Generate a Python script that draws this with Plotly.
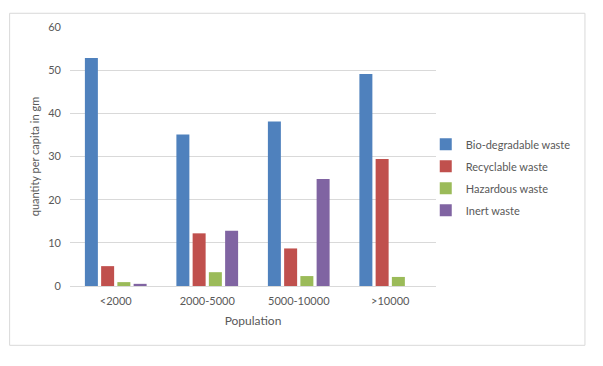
import plotly.graph_objects as go

categories = ["<2000", "2000-5000", "5000-10000", ">10000"]
bio = [52.8, 35.1, 38.1, 49.1]
recyclable = [4.6, 12.2, 8.7, 29.4]
hazardous = [0.9, 3.2, 2.3, 2.1]
inert = [0.5, 12.8, 24.8, None]
series_names = ["Bio-degradable waste", "Recyclable waste", "Hazardous waste", "Inert waste"]
colors = ["#4f81bd", "#c0504d", "#9bbb59", "#8064a2"]
y_ticks = [0, 10, 20, 30, 40, 50, 60]

fig = go.Figure()
for i, (name, vals) in enumerate(zip(series_names, [bio, recyclable, hazardous, inert])):
    fig.add_trace(go.Bar(x=categories, y=vals, name=name, marker_color=colors[i],
                         marker_line_width=0, legendgroup=str(i)))

font_color = "#595959"
fig.update_layout(
    width=595, height=358,
    margin=dict(l=62, r=167, t=16, b=80),
    paper_bgcolor="white", plot_bgcolor="white",
    font=dict(family="Lato", size=11, color=font_color),
    barmode="group", bargap=0.29, bargroupgap=0.2,
    xaxis=dict(showgrid=False, showline=True, linecolor="#d9d9d9", linewidth=1,
               ticks="", ticklabelstandoff=5, tickfont=dict(size=11, color=font_color),
               title=dict(text="Population", font=dict(size=12, color=font_color), standoff=10)),
    yaxis=dict(range=[0, 60], tickvals=y_ticks, showgrid=True, gridcolor="#d9d9d9",
               zeroline=False, showline=False, ticks="", ticklabelstandoff=8,
               tickfont=dict(size=11, color=font_color),
               title=dict(text="quantity per capita in gm", font=dict(size=11, color=font_color), standoff=6)),
    legend=dict(x=0.972, y=0.42, xanchor="left", yanchor="middle",
                font=dict(size=11, color=font_color), tracegroupgap=3,
                traceorder="grouped", bgcolor="rgba(0,0,0,0)"),
    shapes=[dict(type="rect", xref="paper", yref="paper",
                 x0=-0.165, x1=1.407, y0=-0.229, y1=1.053,
                 line=dict(color="#d9d9d9", width=1), fillcolor="rgba(0,0,0,0)", layer="below")],
)

fig.write_html("out.html")
